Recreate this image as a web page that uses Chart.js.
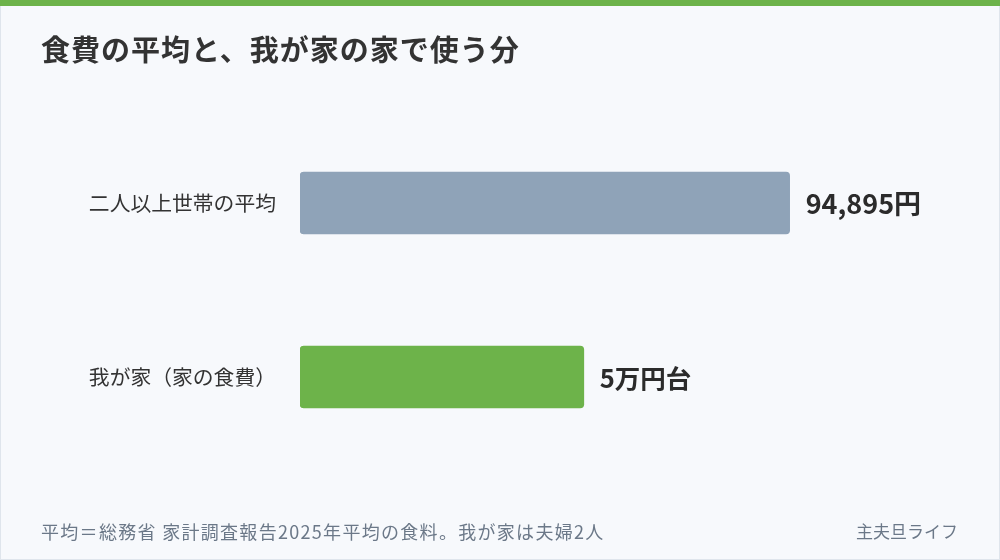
<!DOCTYPE html>
<html lang="ja">
<head>
<meta charset="utf-8">
<script src="https://cdn.jsdelivr.net/npm/chart.js@4.4.1/dist/chart.umd.min.js"></script>
<style>
  html, body { margin: 0; padding: 0; }
  body { width: 1000px; height: 560px; overflow: hidden; font-family: "Noto Sans CJK JP", "Noto Sans", sans-serif; }
  #frame { position: relative; width: 998px; height: 558px; border: 1px solid #dfe5ec; background: #f7f9fc; }
  #topbar { position: absolute; left: -1px; top: -1px; width: 1000px; height: 6px; background: #6db34a; }
  #title { position: absolute; left: 40px; top: 26px; font-size: 29px; font-weight: 700; color: #333; letter-spacing: 1px; line-height: 42px; }
  #note { position: absolute; left: 40px; top: 517px; font-size: 18px; color: #6b7888; letter-spacing: 1.3px; line-height: 26px; }
  #brand { position: absolute; right: 41px; top: 517px; font-size: 17px; color: #6b7888; line-height: 26px; }
  #wrap { position: absolute; left: -1px; top: -1px; width: 1000px; height: 560px; }
</style>
</head>
<body>
<div id="frame">
  <div id="topbar"></div>
  <div id="wrap"><canvas id="grafico"></canvas></div>
  <div id="title">食費の平均と、我が家の家で使う分</div>
  <div id="note">平均＝総務省 家計調査報告2025年平均の食料。我が家は夫婦2人</div>
  <div id="brand">主夫旦ライフ</div>
</div>
<script>
// datos del grafico
var categorias = ['二人以上世帯の平均', '我が家（家の食費）']
var valores = [94895, 55000]
var etiquetas = ['94,895円', '5万円台']
var colores = ['#8fa3b8', '#6db34a']

// etiquetas de valor a la derecha de cada barra
var etiquetaValor = {
  id: 'etiquetaValor',
  afterDatasetsDraw: function(chart) {
    var ctx = chart.ctx
    var meta = chart.getDatasetMeta(0)
    ctx.save()
    ctx.fillStyle = '#2b2b2b'
    ctx.textBaseline = 'middle'
    ctx.textAlign = 'left'
    meta.data.forEach(function(bar, i) {
      // los numeros del original se ven algo mas anchos
      ctx.font = '700 ' + (i === 0 ? 27 : 25.5) + 'px "Noto Sans CJK JP", sans-serif'
      ctx.fillText(etiquetas[i], bar.x + 16, bar.y + 1)
    })
    ctx.restore()
  }
}

var graf = document.getElementById('grafico').getContext('2d')
var chart = new Chart(graf, {
  type: 'bar',
  data: {
    labels: categorias,
    datasets: [{
      data: valores,
      backgroundColor: colores,
      borderRadius: 4,
      borderSkipped: false,
      barThickness: 62
    }]
  },
  options: {
    indexAxis: 'y',
    responsive: true,
    maintainAspectRatio: false,
    animation: false,
    events: [],
    layout: { padding: { left: 0, right: 184, top: 116, bottom: 96 } },
    plugins: { legend: { display: false }, tooltip: { enabled: false } },
    scales: {
      x: { display: false, min: 0, max: 100000 },
      y: {
        grid: { display: false },
        border: { display: false },
        ticks: {
          color: '#333',
          padding: 16,
          font: { family: '"Noto Sans CJK JP", sans-serif', size: 20.8 }
        },
        afterFit: function(scale) { scale.width = 300 }
      }
    }
  },
  plugins: [etiquetaValor]
})
</script>
</body>
</html>
